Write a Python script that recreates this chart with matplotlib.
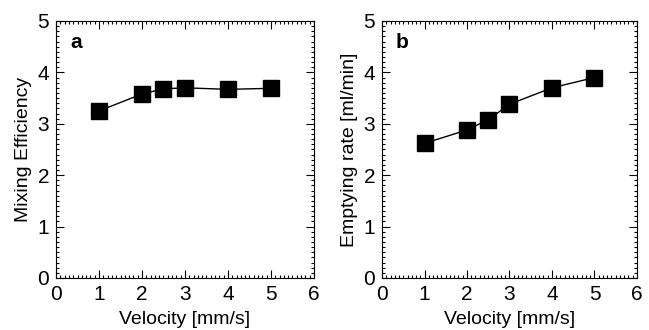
import numpy as np
import matplotlib.pyplot as plt
from matplotlib.ticker import AutoMinorLocator

plt.rcParams['font.family'] = ['Liberation Sans', 'DejaVu Sans']

velocity = [1, 2, 2.5, 3, 4, 5]
mixing_eff = [3.25, 3.58, 3.68, 3.70, 3.67, 3.69]
empty_rate = [2.62, 2.88, 3.08, 3.38, 3.70, 3.90]

fig = plt.figure(figsize=(6.49, 3.30), dpi=100)
ax1 = fig.add_axes([0.0863, 0.1576, 0.3975, 0.7788])
ax2 = fig.add_axes([0.5886, 0.1576, 0.3929, 0.7788])


def style_ax(ax, ylabel, tag):
    ax.set_xlim(0, 6)
    ax.set_ylim(0, 5)
    ax.set_xticks(range(0, 7))
    ax.set_yticks(range(0, 6))
    ax.xaxis.set_minor_locator(AutoMinorLocator(10))
    ax.yaxis.set_minor_locator(AutoMinorLocator(10))
    ax.tick_params(which='both', direction='in', top=True, right=True, labelsize=15, width=0.8)
    ax.tick_params(which='major', length=6, pad=5)
    ax.tick_params(which='minor', length=2.5)
    for s in ax.spines.values():
        s.set_linewidth(0.8)
    ax.set_xlabel('Velocity [mm/s]', fontsize=14, labelpad=5)
    ax.set_ylabel(ylabel, fontsize=14, labelpad=4)
    ax.text(0.055, 0.895, tag, transform=ax.transAxes, fontsize=15, fontweight='bold', va='baseline')


ax1.plot(velocity, mixing_eff, 'k-', marker='s', markersize=12, lw=1)
style_ax(ax1, 'Mixing Efficiency', 'a')

ax2.plot(velocity, empty_rate, 'k-', marker='s', markersize=12, lw=1)
style_ax(ax2, 'Emptying rate [ml/min]', 'b')

plt.savefig('out.png', dpi=100)
plt.close()
